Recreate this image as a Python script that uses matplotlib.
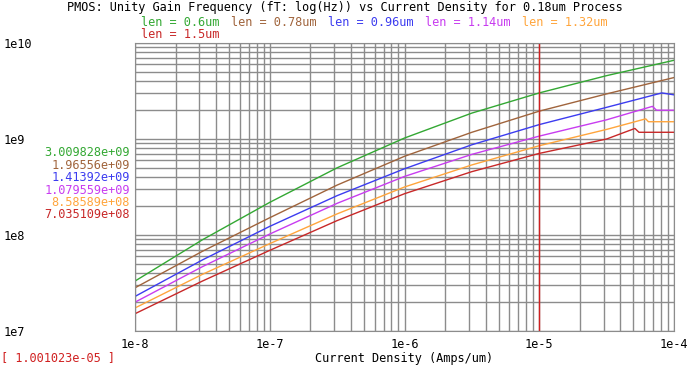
import numpy as np
import matplotlib.pyplot as plt
from matplotlib.ticker import LogLocator

# current density (A/um), log10 positions
x_log = [-8, -7.5, -7, -6.5, -6, -5.5, -5, -4.5]

# log10(fT) for each length, same x positions
green = [7.52, 7.95, 8.34, 8.70, 9.01, 9.27, 9.48, 9.66]
brown = [7.45, 7.83, 8.18, 8.52, 8.82, 9.07, 9.29, 9.47]
blue = [7.36, 7.74, 8.09, 8.41, 8.69, 8.94, 9.15, 9.33]
purple = [7.30, 7.67, 8.01, 8.33, 8.61, 8.84, 9.03, 9.20]
orange = [7.24, 7.59, 7.91, 8.22, 8.50, 8.73, 8.93, 9.10]
red = [7.18, 7.52, 7.84, 8.15, 8.43, 8.66, 8.85, 9.00]

# tail of each curve near 1e-4 (x, y in log10)
green_tail = ([-4.0], [9.82])
brown_tail = ([-4.0], [9.64])
blue_tail = ([-4.09, -4.0], [9.48, 9.46])
purple_tail = ([-4.16, -4.13, -4.0], [9.34, 9.30, 9.30])
orange_tail = ([-4.21, -4.19, -4.0], [9.21, 9.18, 9.18])
red_tail = ([-4.29, -4.26, -4.0], [9.11, 9.07, 9.07])

labels = ['len = 0.6um', 'len = 0.78um', 'len = 0.96um',
          'len = 1.14um', 'len = 1.32um', 'len = 1.5um']
readouts = ['3.009828e+09', '1.96556e+09', '1.41392e+09',
            '1.079559e+09', '8.58589e+08', '7.035109e+08']
colors = ['#33a833', '#a0643c', '#3c3cf0', '#c83cf0', '#ffa53c', '#c82828']
cursor_x = 1.001023e-05

series = [(green, green_tail), (brown, brown_tail), (blue, blue_tail),
          (purple, purple_tail), (orange, orange_tail), (red, red_tail)]

mono = 'DejaVu Sans Mono'
fs = 8.6

fig = plt.figure(figsize=(6.9, 3.66), dpi=100)
ax = fig.add_axes([135/690, 1-331/366, 539/690, 288/366])

for (vals, tail), c in zip(series, colors):
    xs = list(x_log) + tail[0]
    ys = list(vals) + tail[1]
    ax.plot(10**np.array(xs), 10**np.array(ys), color=c, lw=1)

ax.axvline(cursor_x, color='#d02020', lw=1)

ax.set_xscale('log')
ax.set_yscale('log')
ax.set_xlim(1e-8, 1e-4)
ax.set_ylim(1e7, 1e10)
ax.xaxis.set_minor_locator(LogLocator(base=10, subs=np.arange(2, 10)))
ax.yaxis.set_minor_locator(LogLocator(base=10, subs=np.arange(2, 10)))
ax.grid(True, which='both', color='#8c8c8c', lw=1)
ax.set_axisbelow(True)
for s in ax.spines.values():
    s.set_color('#8c8c8c')

ax.set_xticks([1e-8, 1e-7, 1e-6, 1e-5, 1e-4])
ax.set_xticklabels(['1e-8', '1e-7', '1e-6', '1e-5', '1e-4'],
                   family=mono, fontsize=fs)
ax.set_yticks([1e7, 1e8, 1e9, 1e10])
ax.set_yticklabels(['1e7', '1e8', '1e9', '1e10'], family=mono,
                   fontsize=fs, ha='left')
ax.tick_params(which='both', length=0)
ax.tick_params(axis='y', pad=131*0.72)
ax.tick_params(axis='x', pad=5)
ax.set_xlabel('Current Density (Amps/um)', family=mono, fontsize=fs,
              labelpad=1)

fig.text(345/690, 1-8/366,
         'PMOS: Unity Gain Frequency (fT: log(Hz)) vs Current Density for 0.18um Process',
         family=mono, fontsize=fs, ha='center', va='center')

# legend rows
cw = 7.47
x0 = 141
for lab, c in zip(labels[:5], colors[:5]):
    fig.text(x0/690, 1-22/366, lab, family=mono, fontsize=fs,
             color=c, va='center')
    x0 += (len(lab) + 1) * cw
fig.text(141/690, 1-34/366, labels[5], family=mono, fontsize=fs,
         color=colors[5], va='center')

# cursor readouts
for i, (r, c) in enumerate(zip(readouts, colors)):
    fig.text(130/690, 1-(153 + i*12.4)/366, r, family=mono, fontsize=fs,
             color=c, ha='right', va='center')

fig.text(1/690, 2/366, '[ 1.001023e-05 ]', family=mono, fontsize=fs,
         color='#d02020', va='bottom')

fig.savefig('out.png', dpi=100)
